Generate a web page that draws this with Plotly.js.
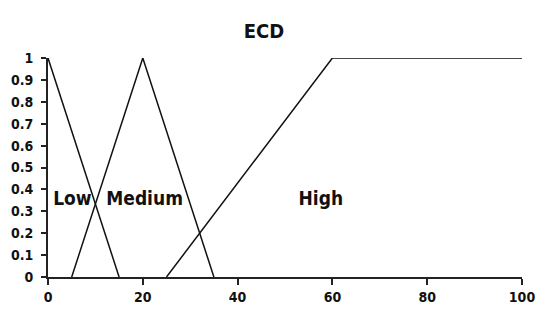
<!DOCTYPE html>
<html>
<head>
<meta charset="utf-8">
<script src="https://cdn.plot.ly/plotly-3.0.1.min.js"></script>
<style>
  html, body { margin: 0; padding: 0; background: #fff; }
  #chart { width: 550px; height: 323px; }
  #chart text { font-stretch: condensed; }
</style>
</head>
<body>
<div id="chart"></div>
<script>
// membership functions for ECD
let low_x = [0, 15];
let low_y = [1, 0];
let medium_x = [5, 20, 35];
let medium_y = [0, 1, 0];
let high_x = [25, 60, 100];
let high_y = [0, 1, 1];

let etiquetas = ['Low', 'Medium', 'High'];
let etiqueta_x = [5.2, 20.4, 57.6];
let etiqueta_y = [0.36, 0.36, 0.36];

let xticks = [0, 20, 40, 60, 80, 100];
let yticks = [0, 0.1, 0.2, 0.3, 0.4, 0.5, 0.6, 0.7, 0.8, 0.9, 1];

let fuente = '"DejaVu Sans", sans-serif';
let linea = {color: '#111', width: 1.5};

let trazos = [
  {x: low_x, y: low_y, mode: 'lines', line: linea},
  {x: medium_x, y: medium_y, mode: 'lines', line: linea},
  {x: high_x, y: high_y, mode: 'lines', line: linea}
];

let notas = etiquetas.map((t, i) => ({
  x: etiqueta_x[i], y: etiqueta_y[i], text: t,
  showarrow: false, font: {family: fuente, size: 19, color: '#111', weight: 'bold'}
}));

Plotly.newPlot('chart', trazos, {
  width: 550, height: 323,
  margin: {l: 48, r: 28, t: 58, b: 46},
  showlegend: false,
  paper_bgcolor: '#fff', plot_bgcolor: '#fff',
  title: {text: 'ECD', x: 0.48, xref: 'container', y: 0.905, yanchor: 'middle',
          font: {family: fuente, size: 20, color: '#111', weight: 'bold'}},
  xaxis: {range: [0, 100], tickvals: xticks,
          showgrid: false, zeroline: false, showline: true, linecolor: '#222', linewidth: 2,
          ticks: 'outside', ticklen: 6, tickwidth: 2, tickcolor: '#222',
          tickfont: {family: fuente, size: 14, color: '#111', weight: 'bold'}},
  yaxis: {range: [0, 1], tickvals: yticks, ticklabelstandoff: 5,
          showgrid: false, zeroline: false, showline: true, linecolor: '#222', linewidth: 2,
          ticks: 'outside', ticklen: 5, tickwidth: 2, tickcolor: '#222',
          tickfont: {family: fuente, size: 14, color: '#111', weight: 'bold'}},
  annotations: notas
}, {staticPlot: true});
</script>
</body>
</html>
